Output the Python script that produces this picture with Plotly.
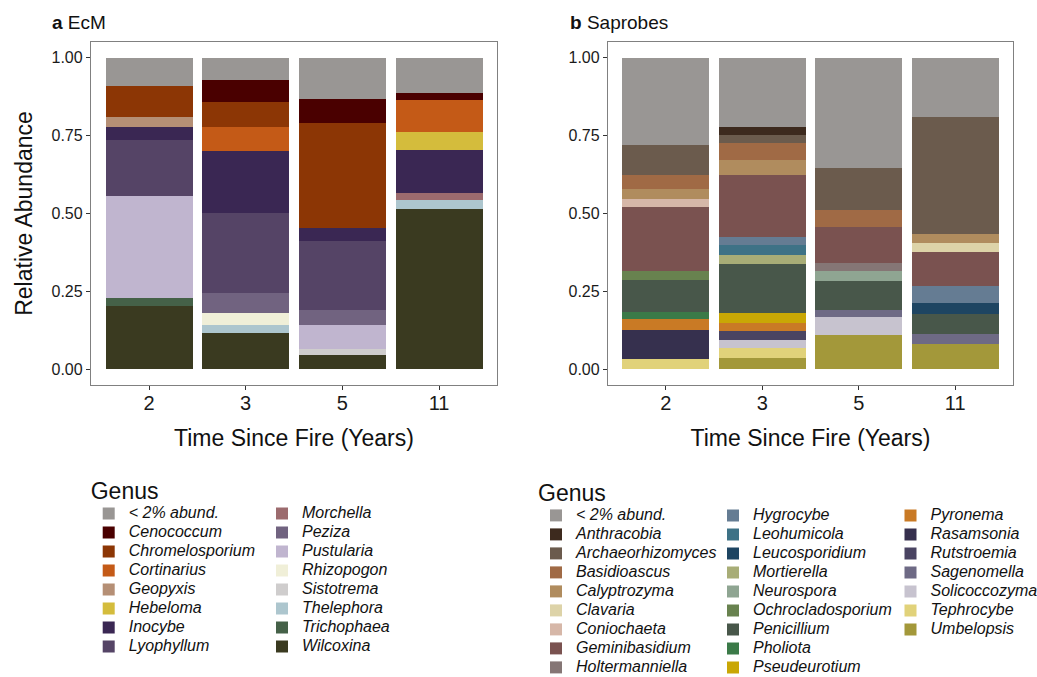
import plotly.graph_objects as go

# ---------------- data ----------------
years = ["2", "3", "5", "11"]

ecm_genera = ["< 2% abund.", "Cenococcum", "Chromelosporium", "Cortinarius", "Geopyxis",
              "Hebeloma", "Inocybe", "Lyophyllum", "Morchella", "Peziza", "Pustularia",
              "Rhizopogon", "Sistotrema", "Thelephora", "Trichophaea", "Wilcoxina"]
ecm_colors = ["#999694", "#4a0000", "#8c3605", "#c45a17", "#b58f75", "#d4bc3c", "#3a2753",
              "#554466", "#9c6b6e", "#716380", "#c0b5cf", "#f0efd8", "#cfcdcd", "#adc6ce",
              "#456148", "#3a3a20"]
ecm_y2 = [0.091, 0, 0.098, 0, 0.033, 0, 0.042, 0.180, 0, 0, 0.326, 0, 0, 0, 0.027, 0.203]
ecm_y3 = [0.072, 0.070, 0.079, 0.080, 0, 0, 0.197, 0.258, 0, 0.062, 0, 0.039, 0, 0.027, 0, 0.116]
ecm_y5 = [0.134, 0.075, 0.339, 0, 0, 0, 0.040, 0.222, 0, 0.049, 0.077, 0, 0.019, 0, 0, 0.045]
ecm_y11 = [0.112, 0.025, 0, 0.102, 0, 0.057, 0.137, 0, 0.025, 0, 0, 0, 0, 0.026, 0, 0.516]

sap_genera = ["< 2% abund.", "Anthracobia", "Archaeorhizomyces", "Basidioascus", "Calyptrozyma",
              "Clavaria", "Coniochaeta", "Geminibasidium", "Holtermanniella", "Hygrocybe",
              "Leohumicola", "Leucosporidium", "Mortierella", "Neurospora", "Ochrocladosporium",
              "Penicillium", "Pholiota", "Pseudeurotium", "Pyronema", "Rasamsonia", "Rutstroemia",
              "Sagenomella", "Solicoccozyma", "Tephrocybe", "Umbelopsis"]
sap_colors = ["#999694", "#3d2a1e", "#6b5b4d", "#a06a45", "#b08c5e", "#ddd3a8", "#d6b7a8",
              "#7a5250", "#857675", "#657c93", "#3e7286", "#1e4562", "#a8ad77", "#8fa592",
              "#68824f", "#48574a", "#3b7a48", "#c9a705", "#c97a25", "#36304e", "#4a4462",
              "#6e6a85", "#c7c3cf", "#e1d27a", "#a3983a"]
sap_y2 = [0.280, 0, 0.095, 0.047, 0.031, 0, 0.025, 0.206, 0, 0, 0, 0, 0, 0, 0.030,
          0.101, 0.022, 0, 0.035, 0.093, 0, 0, 0, 0.035, 0]
sap_y3 = [0.223, 0.024, 0.026, 0.055, 0.047, 0, 0, 0.199, 0, 0.026, 0.033, 0, 0.029, 0, 0,
          0.158, 0, 0.030, 0.027, 0, 0.028, 0, 0.027, 0.030, 0.038]
sap_y5 = [0.354, 0, 0.135, 0.055, 0, 0, 0, 0.116, 0.024, 0, 0, 0, 0, 0.032, 0,
          0.092, 0, 0, 0, 0, 0, 0.024, 0.059, 0, 0.109]
sap_y11 = [0.189, 0, 0.377, 0, 0.027, 0.032, 0, 0.107, 0, 0.054, 0, 0.037, 0, 0, 0,
           0.062, 0, 0, 0, 0, 0, 0.032, 0, 0, 0.083]

y_ticks = [0, 0.25, 0.5, 0.75, 1.0]
y_ticktext = ["0.00", "0.25", "0.50", "0.75", "1.00"]

# ---------------- figure ----------------
W, H = 1037, 677
FONT = "Liberation Sans, Arial, Helvetica, sans-serif"
fig = go.Figure()


def add_panel(genera, colors, columns, xaxis, yaxis, legends, col_sizes):
    per_genus = list(zip(*columns))
    leg_of = []
    for name, n in zip(legends, col_sizes):
        leg_of += [name] * n
    # stacking: first trace at bottom, so add in reverse order (first genus ends on top)
    for i in reversed(range(len(genera))):
        fig.add_trace(go.Bar(
            x=years, y=list(per_genus[i]),
            name='<span style="font-size:16px">' + genera[i] + '</span>',
            meta=genera[i],
            marker=dict(color=colors[i], line=dict(width=0)),
            xaxis=xaxis, yaxis=yaxis, legend=leg_of[i],
            hovertemplate="%{meta}<br>Year %{x}: %{y:.3f}<extra></extra>",
        ))


add_panel(ecm_genera, ecm_colors, [ecm_y2, ecm_y3, ecm_y5, ecm_y11], "x", "y",
          ["legend", "legend2"], [8, 8])
add_panel(sap_genera, sap_colors, [sap_y2, sap_y3, sap_y5, sap_y11], "x2", "y2",
          ["legend3", "legend4", "legend5"], [9, 9, 7])

axis_common = dict(showline=True, linecolor="#808080", linewidth=1.3, mirror=True,
                   ticks="outside", ticklen=4, tickwidth=1.2, tickcolor="#333333",
                   showgrid=False, zeroline=False)

xcommon = dict(axis_common, type="category", categoryorder="array", categoryarray=years,
               range=[-0.6, 3.6], tickfont=dict(size=20, color="#1a1a1a"),
               ticklabelstandoff=-4,
               title=dict(text="Time Since Fire (Years)", font=dict(size=23, color="#111"),
                          standoff=16))
ycommon = dict(axis_common, range=[-0.05, 1.05], tickvals=y_ticks, ticktext=y_ticktext,
               tickfont=dict(size=16, color="#1a1a1a"))

ydom = [1 - 385 / H, 1 - 42 / H]


def leg(x_px, top_px, title=None):
    d = dict(x=x_px / W, y=1 - top_px / H, xanchor="left", yanchor="top",
             orientation="v", traceorder="reversed", bgcolor="rgba(0,0,0,0)",
             font=dict(family=FONT, size=12.3, style="italic", color="#111"))
    if title:
        d["title"] = dict(text=title, font=dict(family=FONT, size=23, style="normal",
                                                color="#111"))
    return d


fig.update_layout(
    width=W, height=H, margin=dict(l=0, r=0, t=0, b=0, autoexpand=False),
    barmode="stack", bargap=0.1,
    plot_bgcolor="white", paper_bgcolor="white",
    font=dict(family=FONT, color="#1a1a1a"),
    xaxis=dict(xcommon, domain=[91 / W, 497 / W], anchor="y"),
    yaxis=dict(ycommon, domain=ydom, anchor="x",
               title=dict(text="Relative Abundance", font=dict(size=23, color="#111"),
                          standoff=12)),
    xaxis2=dict(xcommon, domain=[608 / W, 1013 / W], anchor="y2"),
    yaxis2=dict(ycommon, domain=ydom, anchor="x2"),
    legend=leg(88.7, 469, "Genus"),
    legend2=leg(262, 499),
    legend3=leg(536, 471, "Genus"),
    legend4=leg(713, 501),
    legend5=leg(890.5, 501),
    annotations=[
        dict(text="<b>a</b> EcM", x=50 / W, y=1 - 22 / H, xref="paper", yref="paper",
             xanchor="left", yanchor="middle", showarrow=False,
             font=dict(size=19, color="#111")),
        dict(text="<b>b</b> Saprobes", x=568 / W, y=1 - 22 / H, xref="paper", yref="paper",
             xanchor="left", yanchor="middle", showarrow=False,
             font=dict(size=19, color="#111")),
    ],
)

fig.write_html(
    "out.html",
    config={"displayModeBar": False},
    post_script="document.body.style.margin='0';document.body.style.padding='0';"
                "document.documentElement.style.overflow='hidden';",
)
